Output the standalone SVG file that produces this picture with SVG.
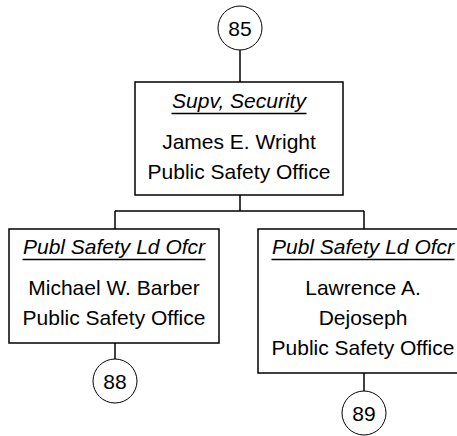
<svg xmlns="http://www.w3.org/2000/svg" width="457" height="436" viewBox="0 0 457 436">
<style>
.box{fill:#fff;stroke:#000;stroke-width:1.5}
.circ{fill:#fff;stroke:#000;stroke-width:1}
.conn{fill:none;stroke:#000;stroke-width:1.5}
.ul{stroke:#000;stroke-width:1.7}
text{font-family:"Liberation Sans",Arial,sans-serif;font-size:21px;fill:#000;text-anchor:middle}
.title{font-style:italic}
</style>
<rect width="457" height="436" fill="#fff"/>
<g id="connectors">
<path class="conn" d="M240,50V82"/>
<path class="conn" d="M240,195V211M115,211H364M115,211V229M364,211V229"/>
<path class="conn" d="M115,343V359"/>
<path class="conn" d="M364,373V391"/>
</g>
<g id="ref85">
<circle class="circ" cx="240" cy="28" r="22"/>
<text x="240" y="35.5">85</text>
</g>
<g id="supv-security">
<rect class="box" x="135" y="82" width="208" height="113"/>
<text class="title" x="239" y="108">Supv, Security</text>
<line class="ul" x1="171.5" y1="113.5" x2="306.5" y2="113.5"/>
<text x="239" y="149">James E. Wright</text>
<text x="239" y="179">Public Safety Office</text>
</g>
<g id="barber">
<rect class="box" x="9" y="229" width="210" height="114"/>
<text class="title" x="114" y="254">Publ Safety Ld Ofcr</text>
<line class="ul" x1="22.5" y1="259.5" x2="205.5" y2="259.5"/>
<text x="114" y="295">Michael W. Barber</text>
<text x="114" y="325">Public Safety Office</text>
</g>
<g id="dejoseph">
<rect class="box" x="258" y="229" width="210" height="144"/>
<text class="title" x="363" y="254">Publ Safety Ld Ofcr</text>
<line class="ul" x1="271.5" y1="259.5" x2="454.5" y2="259.5"/>
<text x="363" y="295">Lawrence A.</text>
<text x="363" y="325">Dejoseph</text>
<text x="363" y="355">Public Safety Office</text>
</g>
<g id="ref88">
<circle class="circ" cx="115" cy="381" r="22"/>
<text x="115" y="388.5">88</text>
</g>
<g id="ref89">
<circle class="circ" cx="364" cy="413" r="22"/>
<text x="364" y="420.5">89</text>
</g>
</svg>
